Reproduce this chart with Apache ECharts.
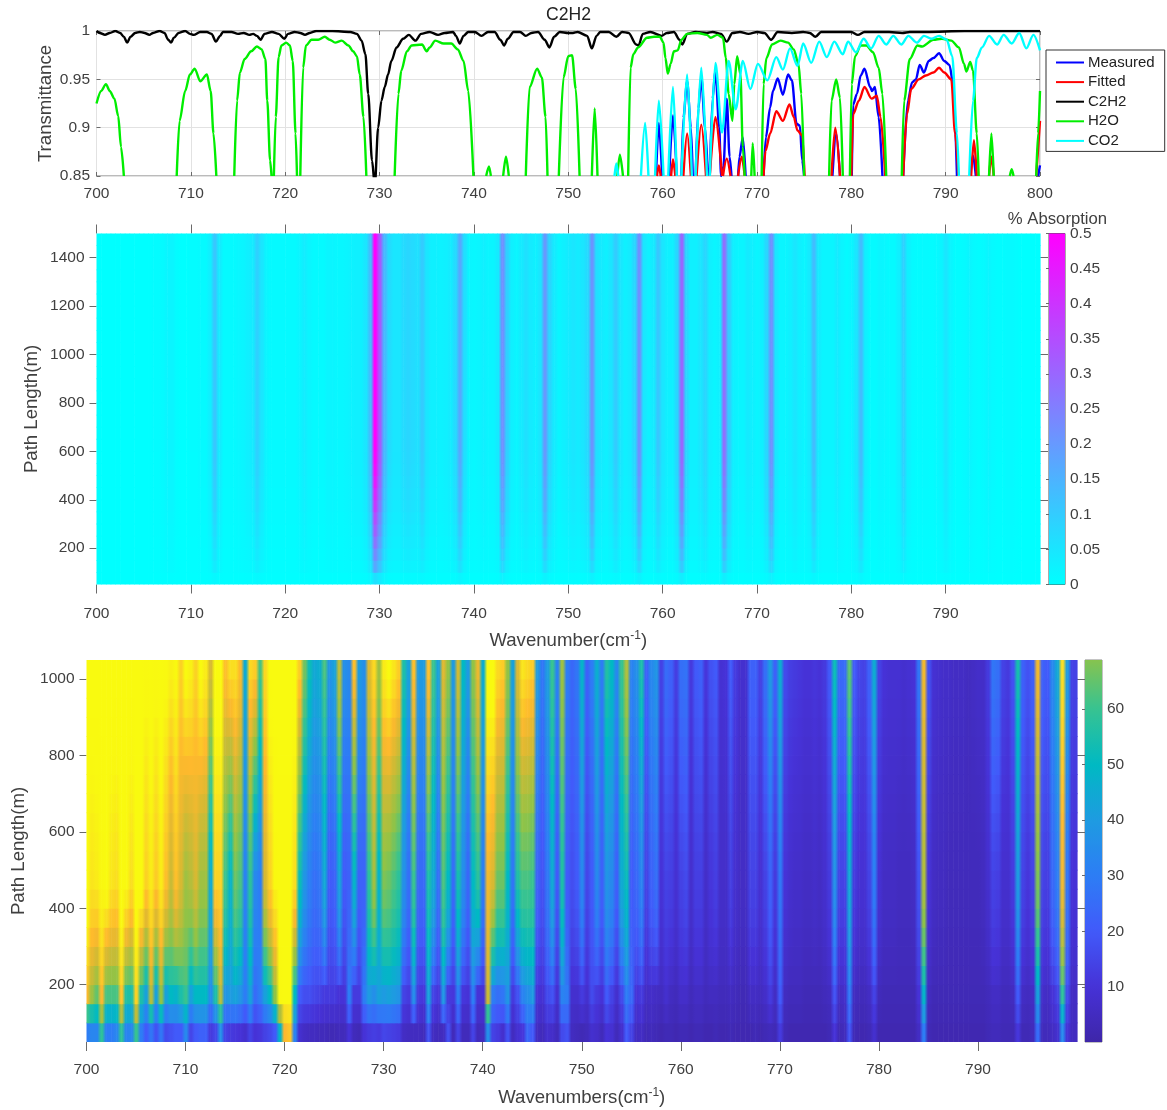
<!DOCTYPE html>
<html>
<head>
<meta charset="utf-8">
<title>C2H2</title>
<style>html,body{margin:0;padding:0;background:#fff}#chart{width:1167px;height:1110px}</style>
<script src="https://cdn.jsdelivr.net/npm/echarts@6/dist/echarts.min.js"></script>
</head>
<body>
<div id="chart"></div>
<script>
const measured = [[759.3,.85],[759.6,.905],[759.95,.85],null,[760.7,.85],[761.1,.913],[761.5,.85],null,[762,.85],[762.2,.91],[762.6,.948],[763,.9],[763.2,.85],null,[763.5,.85],[763.8,.92],[764.1,.953],[764.5,.9],[764.8,.85],null,[765,.85],[765.3,.93],[765.6,.96],[766,.9],[766.2,.85],[766.45,.86],[766.8,.93],[767.1,.87],[767.3,.85],null,[768,.85],[768.15,.87],[768.5,.89],[768.8,.85],null,[770.7,.85],[770.95,.89],[771.4,.921],[771.7,.938],[772.2,.951],[772.75,.934],[773.3,.955],[773.7,.949],[774.2,.904],[774.55,.902],[774.8,.866],[775,.85],null,[778,.85],[778.4,.894],[778.8,.85],null,[780.05,.85],[780.2,.924],[780.6,.935],[781,.954],[781.4,.961],[782,.942],[782.2,.938],[782.5,.942],[782.9,.911],[783.3,.85],null,[785.5,.85],[786,.928],[786.45,.947],[786.85,.95],[787.25,.965],[787.7,.957],[788.2,.969],[788.7,.972],[789.3,.977],[789.85,.969],[790.4,.965],[790.8,.945],[791.2,.85],null,[792.6,.85],[792.9,.871],[793.2,.85],null,[799.8,.85],[800,.861]];
const fitted = [[759.4,.85],[759.6,.861],[759.8,.85],null,[760.9,.85],[761.1,.867],[761.35,.85],null,[762.2,.85],[762.6,.894],[763,.85],null,[763.6,.85],[764.1,.903],[764.6,.85],null,[765,.85],[765.6,.911],[766.3,.85],null,[766.4,.85],[766.8,.868],[767.2,.85],null,[768,.85],[768.4,.87],[768.7,.85],null,[770.7,.85],[770.9,.876],[771.4,.894],[772.05,.917],[772.75,.907],[773.45,.924],[773.9,.911],[774.3,.897],[774.8,.892],[775.05,.85],null,[777.9,.85],[778.3,.9],[778.8,.85],null,[780,.85],[780.2,.914],[780.8,.928],[781.4,.942],[782.15,.93],[782.7,.933],[783.1,.911],[783.6,.85],null,[785.5,.85],[785.9,.914],[786.35,.94],[787.15,.95],[787.9,.954],[788.7,.957],[789.3,.962],[789.85,.957],[790.6,.95],[791,.894],[791.35,.85],null,[792.7,.85],[793,.887],[793.3,.85],null,[794.6,.85],[794.85,.87],[795.1,.85],null,[799.6,.85],[800,.907]];
const c2h2 = [[700,1],[700.35,.998],[700.9,.996],[701.4,.998],[702,1],[702.5,.998],[702.9,.994],[703.25,.988],[703.6,.994],[704.1,.998],[704.6,.999],[705.1,.998],[705.6,.996],[706,.998],[706.7,1],[707.2,.998],[707.6,.991],[707.9,.988],[708.2,.993],[708.7,.998],[709.4,1],[709.9,.997],[710.3,.996],[711,.999],[711.7,.999],[712.2,.997],[712.65,.989],[713.1,.995],[713.4,.999],[714.3,.999],[715,.997],[715.6,.998],[716.2,.996],[716.6,.997],[717,.995],[717.4,.991],[717.8,.997],[718.6,.999],[719.3,.997],[719.9,.992],[720.3,.997],[721,.999],[721.6,.998],[722.1,.996],[722.6,.998],[723.3,1],[725,1],[726.9,.999],[727.6,.997],[728.1,.99],[728.5,.976],[728.8,.935],[729.2,.866],[729.5,.84],[729.85,.9],[730.2,.928],[730.55,.942],[730.9,.955],[731.25,.969],[731.8,.983],[732.5,.992],[733.1,.996],[733.8,.99],[734.4,.997],[735.3,.999],[736.2,.996],[736.9,.998],[737.8,.999],[738.1,.995],[738.5,.987],[738.9,.995],[739.4,.999],[740.1,.999],[740.8,.995],[741.5,.999],[742.2,.999],[742.8,.991],[743.2,.985],[743.6,.992],[744.2,.999],[744.9,.999],[745.5,.995],[746.1,.998],[746.8,.999],[747.5,.991],[748,.983],[748.5,.994],[749.1,.999],[750,.998],[750.5,.998],[751,.999],[752,.995],[752.5,.982],[753,.995],[753.4,.999],[754.3,.999],[755.1,.994],[755.7,.999],[756.4,.998],[757.2,.986],[757.45,.985],[757.9,.997],[758.7,.999],[759.9,.995],[760.45,.998],[761.2,.999],[761.8,.991],[762.1,.986],[762.6,.997],[763.5,.999],[764.7,.998],[765.3,.999],[766.2,.997],[766.8,.989],[767.4,.998],[768.2,.999],[769.1,.997],[770.05,.999],[770.8,.998],[771.5,.991],[772.2,.999],[773.7,.998],[774.9,.999],[775.6,.998],[776.2,.994],[776.8,.999],[778.7,.999],[780,.999],[780.7,.996],[781.4,.999],[784,.999],[785.4,.998],[786.2,.999],[787.9,.999],[792,1],[800,1]];
const h2o = [[700,.925],[700.5,.938],[701,.945],[701.4,.938],[701.9,.93],[702.3,.912],[702.6,.88],[702.9,.85],null,[708.5,.85],[708.8,.907],[709.4,.938],[709.9,.955],[710.4,.961],[711,.948],[711.7,.955],[712.1,.938],[712.4,.894],[712.7,.85],null,[714.6,.85],[714.9,.928],[715.2,.957],[715.7,.971],[716.4,.979],[717,.984],[717.5,.981],[717.9,.971],[718.1,.928],[718.4,.866],[718.55,.85],null,[718.8,.85],[719,.911],[719.3,.973],[719.6,.985],[720.1,.988],[720.5,.985],[720.8,.969],[721.1,.894],[721.25,.85],null,[721.6,.85],[721.9,.962],[722.2,.985],[722.8,.991],[723.5,.991],[724.2,.994],[724.7,.991],[725.3,.988],[726,.99],[726.7,.985],[727.2,.979],[727.6,.974],[727.9,.955],[728.3,.911],[728.6,.85],null,[731.6,.85],[732,.935],[732.3,.959],[732.9,.979],[733.4,.985],[734.5,.986],[735,.979],[735.3,.983],[735.9,.99],[736.8,.987],[737.6,.987],[738.3,.981],[738.9,.969],[739.4,.938],[739.95,.85],null,[741.3,.85],[741.6,.86],[741.8,.85],null,[743.1,.85],[743.4,.87],[743.7,.85],null,[745.5,.85],[745.9,.942],[746.7,.961],[747.2,.952],[747.6,.911],[747.8,.85],null,[749,.85],[749.5,.952],[750,.974],[750.4,.975],[750.8,.94],[751.2,.85],null,[752.5,.85],[752.8,.92],[753.1,.85],null,[755.2,.85],[755.47,.872],[755.8,.85],null,[756.35,.85],[756.6,.962],[756.9,.976],[757.4,.983],[758.35,.993],[759.1,.994],[759.7,.994],[760.1,.988],[760.3,.972],[760.55,.956],[760.85,.966],[761.2,.979],[761.6,.98],[762,.991],[762.6,.997],[763.7,.998],[764.7,.996],[765.1,.993],[765.8,.996],[766.4,.993],[766.7,.972],[767,.935],[767.4,.907],[767.6,.945],[767.9,.974],[768.25,.955],[768.5,.88],[768.7,.85],null,[769.4,.85],[769.55,.884],[769.75,.85],null,[770.5,.85],[770.7,.945],[771,.972],[771.6,.986],[772.5,.99],[773.3,.988],[773.9,.981],[774.4,.966],[774.7,.935],[775,.85],null,[777.65,.85],[777.9,.928],[778.4,.95],[778.8,.931],[779.1,.85],null,[779.85,.85],[780.05,.945],[780.4,.974],[781,.985],[781.6,.985],[782.3,.978],[782.9,.962],[783.3,.935],[783.7,.85],null,[785.35,.85],[785.6,.928],[786.2,.971],[787,.985],[787.5,.984],[788.7,.991],[789.6,.992],[790.6,.99],[791.4,.983],[791.95,.966],[792.2,.958],[792.6,.968],[792.9,.959],[793.3,.894],[793.5,.85],null,[794.6,.85],[794.85,.894],[795.1,.85],null,[796.8,.85],[797,.857],[797.2,.85],null,[799.6,.85],[799.8,.894],[800,.938]];
const co2 = [[754.9,.85],[755.1,.863],[755.3,.85],null,[757.7,.85],[758.15,.905],[758.5,.85],null,[759.2,.85],[759.6,.928],[760.1,.85],null,[760.6,.85],[761.1,.942],[761.5,.85],null,[762,.85],[762.6,.955],[763.1,.85],null,[763.5,.85],[764.1,.962],[764.7,.85],null,[765,.85],[765.6,.967],[766.3,.895],[767,.969],[767.75,.919],[768.5,.969],[769.3,.94],[770.1,.966],[771.1,.949],[772.05,.973],[772.75,.96],[773.5,.982],[774.3,.964],[774.9,.987],[775.75,.967],[776.6,.989],[777.4,.973],[778.2,.989],[779.1,.976],[779.65,.989],[780.5,.978],[781.3,.992],[782.1,.982],[782.9,.995],[783.7,.986],[784.45,.995],[785.3,.986],[786.05,.995],[786.95,.988],[787.7,.995],[788.5,.992],[789.3,.995],[790.1,.991],[790.7,.974],[791.2,.894],[791.4,.85],null,[792.5,.85],[792.9,.928],[793.3,.972],[793.85,.983],[794.6,.995],[795.45,.986],[796.15,.996],[797,.987],[797.8,.998],[798.55,.982],[799.3,.996],[800,.98]];

// Middle panel: absorption per wavenumber column (700 to 799.5 in 0.5 steps) on the long-path rows.
const midColumns = [
0,0,0,0,0,0,0,0,0,0,0,0,.005,.005,.01,.02,.02,.005,0,0,
.005,.005,.01,.01,.03,.11,.04,.01,.01,.01,.015,.02,.03,.04,.09,.05,.02,.01,.01,.01,
.01,.01,.01,.02,.035,.02,.01,.01,.01,.02,.02,.015,.015,.02,.025,.03,.03,.05,.13,.5,
.32,.14,.07,.05,.05,.07,.08,.07,.06,.1,.05,.03,.03,.025,.03,.04,.07,.17,.06,.02,
.015,.02,.03,.02,.02,.04,.22,.09,.03,.02,.04,.06,.04,.03,.05,.2,.08,.04,.02,.03,
.04,.05,.04,.05,.07,.21,.06,.04,.03,.05,.1,.05,.03,.04,.08,.22,.05,.03,.04,.11,
.05,.03,.03,.08,.3,.08,.03,.03,.05,.08,.03,.02,.03,.28,.1,.03,.02,.02,.04,.03,
.02,.03,.08,.22,.05,.02,.02,.03,.05,.03,.02,.04,.13,.04,.02,.02,.02,.04,.02,.01,
.02,.05,.13,.03,.01,.01,.02,.015,.01,.01,.03,.09,.03,.01,.005,.01,.01,.005,.01,.02,
.05,.02,.005,.005,.01,.02,.01,.005,.01,.02,.01,.005,.005,.01,.01,.005,0,0,0,0];
const midRowLengths = [50,100,150,200,250,300,350,400,450,500,550,600,650,700,750,800,850,900,950,1000,1050,1100,1150,1200,1250,1300,1350,1400,1450];
const midRowFactors = [.12,.35,.46,.55,.63,.7,.78,.85,.9,.95,.98,1,1,1,1,1,1,1,1,1,1,1,1,1,1,1,1,1,1];

// Bottom panel: absorption per wavenumber column on four path lengths.
const bottomAt50 = [
30,33,33,58,30,30,33,58,32,33,60,30,20,28,18,28,16,18,20,20,
34,15,20,22,22,12,15,36,14,12,11,10,8,14,10,11,14,16,20,48,
86,88,32,8,6,5,5,4,4,3,3,4,4,10,4,3,10,12,13,12,
15,14,13,12,6,5,5,5,4,18,5,4,5,17,4,14,4,4,14,4,
5,36,14,12,8,18,5,9,11,24,20,5,4,8,7,4,16,18,5,4,
3,4,8,7,4,10,9,4,8,20,14,5,6,3,4,3,2,3,3,2,
3,3,2,3,3,2,2,3,2,2,3,2,2,2,2,3,2,3,4,3,
12,3,2,2,2,2,2,2,2,2,3,10,3,4,18,3,2,2,3,8,
2,2,2,2,2,2,2,2,6,30,3,2,2,2,2,2,2,2,2,2,
2,2,3,4,4,3,3,3,11,3,3,4,25,4,4,6,8,34,10,5];
const bottomAt150 = [
85,72,65,85,62,62,62,88,56,55,90,55,42,75,42,70,42,50,48,55,
60,42,50,50,50,35,55,75,38,40,42,38,30,42,25,30,42,50,70,96,
97,97,50,20,17,17,15,14,12,12,12,10,10,30,12,12,30,40,36,42,
40,42,40,38,14,12,35,12,11,42,14,11,38,12,11,30,11,10,30,10,
10,78,30,26,28,38,12,18,32,36,40,10,9,16,18,9,32,30,8,8,
12,8,16,12,10,20,14,8,16,30,24,10,12,6,7,6,5,8,5,4,
7,7,4,6,6,4,5,5,4,4,5,4,3,3,6,6,5,7,12,6,
20,5,4,4,4,3,3,3,3,4,5,18,6,7,28,5,4,4,6,14,
4,3,3,3,3,3,3,3,10,48,5,3,3,3,3,3,3,3,3,3,
3,3,4,6,6,4,4,5,20,6,5,6,42,7,6,10,14,58,16,6];
const bottomAt450 = [
98,93,94,96,98,93,92,98,97,92,98,99,90,94,89,94,87,78,87,80,
72,75,80,72,72,45,90,90,60,48,66,62,32,58,34,30,80,90,96,97,
97,97,92,52,38,30,26,28,44,20,22,42,20,22,48,22,22,58,72,48,
68,66,62,58,36,26,60,24,24,55,44,26,62,50,25,54,35,24,50,58,
30,84,80,66,66,50,28,56,62,62,60,22,18,28,44,20,55,20,17,20,
33,15,20,34,22,38,34,22,45,52,20,24,32,14,22,26,10,14,13,9,
14,16,8,13,13,7,11,13,7,7,13,8,6,6,14,14,9,14,22,12,
28,10,8,7,7,6,6,7,6,8,12,36,14,14,44,12,9,9,14,30,
9,6,6,6,5,5,5,6,18,74,10,6,5,5,4,4,4,4,4,4,
4,5,8,14,13,8,8,12,40,14,11,14,68,14,13,24,30,84,28,10];
const bottomAt1000 = [
99,99,99,99,99,99,99,99,99,99,99,99,97,98,97,98,97,95,96,90,
97,95,90,97,94,80,98,98,87,92,92,86,45,91,89,62,91,98,99,99,
99,99,98,89,66,52,44,46,62,38,42,76,36,34,87,40,36,81,91,72,
94,97,93,89,55,42,87,40,40,87,60,42,81,70,40,79,50,40,70,83,
46,98,99,91,89,70,42,81,93,91,89,40,28,40,60,32,72,30,24,28,
48,22,30,46,30,56,50,34,60,74,32,36,55,22,34,38,14,25,22,13,
26,27,12,20,22,11,18,20,9,10,20,12,8,8,22,22,14,26,40,22,
46,16,13,12,11,10,10,11,10,12,20,52,24,25,64,20,15,14,22,45,
14,10,9,9,9,8,9,10,28,84,18,9,8,7,7,6,6,6,5,6,
7,7,12,28,26,14,12,18,54,22,18,22,84,22,20,34,44,92,40,14];
const bottomRowLengths = [50,100,150,200,250,300,350,400,450,500,550,600,650,700,750,800,850,900,950,1000];
// Position of each row between the read rows: 0 = 50 m, 1 = 150 m, 2 = 450 m, 3 = 1000 m
const bottomRowMix = [0,.55,1,1.28,1.5,1.68,1.83,1.93,2,2.08,2.16,2.25,2.35,2.45,2.55,2.65,2.75,2.85,2.93,3];
const bottomReadRows = [bottomAt50, bottomAt150, bottomAt450, bottomAt1000];

const xTicks = [700,710,720,730,740,750,760,770,780,790];
const midYTicks = [200,400,600,800,1000,1200,1400];
const bottomYTicks = [200,400,600,800,1000];
const midBarTicks = [0,.05,.1,.15,.2,.25,.3,.35,.4,.45,.5];
const bottomBarTicks = [10,20,30,40,50,60];
const parulaStops = [[0,[62,38,168]],[.1,[70,50,215]],[.2,[65,90,250]],[.3,[45,125,245]],[.4,[30,155,225]],[.5,[0,185,195]],[.6,[55,195,145]],[.7,[145,195,70]],[.8,[215,185,50]],[.86,[254,185,45]],[.92,[250,222,32]],[.96,[249,248,16]],[1,[249,251,14]]];

const STEP = .5;
const FONT = 'Liberation Sans';
const TEXT = '#404040', TICK = '#6a6a6a';

function coolColor(v){
  const t = Math.max(0, Math.min(1, v / .5));
  return 'rgb(' + Math.round(255 * t) + ',' + Math.round(255 * (1 - t)) + ',255)';
}
function parulaColor(v){
  const t = Math.max(0, Math.min(1, v / 100));
  for (let i = 1; i < parulaStops.length; i++) {
    if (t <= parulaStops[i][0]) {
      const a = parulaStops[i - 1], b = parulaStops[i], f = (t - a[0]) / (b[0] - a[0]);
      return 'rgb(' + a[1].map((c, k) => Math.round(c + (b[1][k] - c) * f)).join(',') + ')';
    }
  }
  return 'rgb(249,251,14)';
}
const wavenumberAt = i => 700 + i * STEP;

const midCells = [];
midRowLengths.forEach((len, r) => midColumns.forEach((v, i) => {
  const next = i + 1 < midColumns.length ? midColumns[i + 1] : v;
  midCells.push([wavenumberAt(i), len, v * midRowFactors[r], next * midRowFactors[r]]);
}));
function bottomAt(i, mix){
  const k = Math.min(Math.floor(mix), bottomReadRows.length - 2), f = mix - k;
  return bottomReadRows[k][i] + (bottomReadRows[k + 1][i] - bottomReadRows[k][i]) * f;
}
const bottomCells = [];
bottomRowLengths.forEach((len, r) => bottomAt50.forEach((_, i) => {
  const n = Math.min(i + 1, bottomAt50.length - 1);
  bottomCells.push([wavenumberAt(i), len, bottomAt(i, bottomRowMix[r]), bottomAt(n, bottomRowMix[r])]);
}));

function cellRenderer(colorFn){
  return function(params, api){
    const x = api.value(0), y = api.value(1);
    const p0 = api.coord([x, y + 50]);
    const p1 = api.coord([x + STEP, y]);
    const a = colorFn(api.value(2)), b = colorFn(api.value(3));
    return {
      type: 'rect',
      shape: { x: p0[0], y: p0[1] - .4, width: p1[0] - p0[0] + .6, height: p1[1] - p0[1] + .8 },
      style: { fill: { type: 'linear', x: 0, y: 0, x2: 1, y2: 0, colorStops: [
        { offset: 0, color: a }, { offset: .2, color: a }, { offset: .8, color: b }, { offset: 1, color: b }] } }
    };
  };
}
function barRenderer(colorFn, lo, hi, n){
  return function(params, api){
    const top = api.coord([0, hi]), bottom = api.coord([1, lo]);
    const stops = [];
    for (let i = 0; i <= n; i++) stops.push({ offset: i / n, color: colorFn(hi - (hi - lo) * i / n) });
    return { type: 'rect', shape: { x: top[0], y: top[1], width: bottom[0] - top[0], height: bottom[1] - top[1] },
      style: { fill: { type: 'linear', x: 0, y: 0, x2: 0, y2: 1, colorStops: stops } } };
  };
}
const nameStyle = { color: TEXT, fontFamily: FONT, fontSize: 18.6 };
const labelStyle = { color: TEXT, fontFamily: FONT, fontSize: 15.5 };
const richName = { a: { color: TEXT, fontFamily: FONT, fontSize: 18.6 }, s: { color: TEXT, fontFamily: FONT, fontSize: 12, padding: [0, 0, 10, 0] } };
const noAxisLine = { show: false };
function tickAxis(base, len, inside, ticks, labels, margin){
  return Object.assign({ type: 'value', splitLine: { show: false }, axisLine: noAxisLine, nameMoveOverlap: false,
    axisTick: Object.assign({ show: true, length: len, inside: inside, lineStyle: { color: TICK, width: 1 } }, ticks ? { customValues: ticks } : {}),
    axisLabel: Object.assign({ show: !!labels, margin: margin, formatter: v => String(+(+v).toFixed(2)) }, labelStyle, labels && labels !== true ? { customValues: labels } : {}) }, base);
}
const gridLine = { show: true, lineStyle: { color: '#e2e2e2', width: 1 } };
const lineSeries = (name, data, color) => ({
  name, type: 'line', xAxisIndex: 0, yAxisIndex: 0, showSymbol: false, symbol: 'none', smooth: .3, smoothMonotone: 'x',
  connectNulls: false, clip: true, lineStyle: { color, width: 2.4 }, itemStyle: { color },
  data: data.map(p => p === null ? ['-', '-'] : p)
});

const option = {
  animation: false,
  backgroundColor: '#fff',
  textStyle: { fontFamily: FONT },
  title: [
    { text: 'C2H2', left: 568.5, top: 6, textAlign: 'center', padding: 0, textStyle: { color: '#222', fontFamily: FONT, fontSize: 17.6, fontWeight: 'normal' } },
    { text: '% Absorption', left: 1057.5, top: 211, textAlign: 'center', padding: 0, textStyle: { color: TEXT, fontFamily: FONT, fontSize: 16.7, fontWeight: 'normal' } }
  ],
  legend: {
    left: 1046, top: 50, orient: 'vertical', padding: [4, 10, 2, 10], itemGap: 2.6, itemWidth: 28, itemHeight: 2, icon: 'rect',
    borderColor: '#333', borderWidth: 1, backgroundColor: '#fff',
    textStyle: { color: '#222', fontFamily: FONT, fontSize: 15, padding: [0, 0, 0, -1], lineHeight: 17 },
    data: ['Measured', 'Fitted', 'C2H2', 'H2O', 'CO2']
  },
  grid: [
    { left: 96.5, top: 31, width: 943.5, height: 145, show: true, borderColor: '#777', borderWidth: 1, backgroundColor: 'transparent' },
    { left: 96.5, top: 233.5, width: 943.5, height: 351 },
    { left: 1049, top: 233.5, width: 16, height: 351, show: true, borderColor: '#555', borderWidth: 1 },
    { left: 86.5, top: 660, width: 990.5, height: 382 },
    { left: 1085, top: 660, width: 17, height: 382, show: true, borderColor: '#888', borderWidth: 1 }
  ],
  xAxis: [
    tickAxis({ gridIndex: 0, min: 700, max: 800, interval: 10, position: 'bottom', splitLine: gridLine }, 4, true, null, true, 10),
    tickAxis({ gridIndex: 0, min: 700, max: 800, interval: 10, position: 'top' }, 4, true, null, null),
    tickAxis({ gridIndex: 1, min: 700, max: 800, position: 'bottom', name: '{a|Wavenumber(cm}{s|-1}{a|)}', nameLocation: 'middle', nameGap: 45, nameTextStyle: { rich: richName } }, 9, false, xTicks, xTicks, 21),
    tickAxis({ gridIndex: 1, min: 700, max: 800, position: 'top' }, 9, false, xTicks, null),
    { type: 'value', gridIndex: 2, min: 0, max: 1, show: false },
    tickAxis({ gridIndex: 3, min: 700, max: 800, position: 'bottom', name: '{a|Wavenumbers(cm}{s|-1}{a|)}', nameLocation: 'middle', nameGap: 45, nameTextStyle: { rich: richName } }, 9, false, xTicks, xTicks, 20),
    { type: 'value', gridIndex: 4, min: 0, max: 1, show: false }
  ],
  yAxis: [
    tickAxis({ gridIndex: 0, min: .85, max: 1, interval: .05, position: 'left', splitLine: gridLine, name: 'Transmittance', nameLocation: 'middle', nameGap: 41, nameTextStyle: nameStyle }, 4, true, null, true, 6.5),
    tickAxis({ gridIndex: 0, min: .85, max: 1, interval: .05, position: 'right' }, 4, true, null, null),
    tickAxis({ gridIndex: 1, min: 50, max: 1500, position: 'left', name: 'Path Length(m)', nameLocation: 'middle', nameGap: 55, nameTextStyle: nameStyle }, 7, false, midYTicks, midYTicks, 12),
    tickAxis({ gridIndex: 1, min: 50, max: 1500, position: 'right' }, 8, false, midYTicks, null),
    tickAxis({ gridIndex: 2, min: 0, max: .5, position: 'right' }, 3, true, midBarTicks, midBarTicks, 5),
    tickAxis({ gridIndex: 3, min: 50, max: 1050, position: 'left', name: 'Path Length(m)', nameLocation: 'middle', nameGap: 58, nameTextStyle: nameStyle }, 7, false, bottomYTicks, bottomYTicks, 12),
    tickAxis({ gridIndex: 3, min: 50, max: 1050, position: 'right' }, 8, false, bottomYTicks, null),
    tickAxis({ gridIndex: 4, min: .1, max: 68.8, position: 'right' }, 3, true, bottomBarTicks, bottomBarTicks, 5)
  ],
  series: [
    lineSeries('Measured', measured, '#0000ff'),
    lineSeries('Fitted', fitted, '#ff0000'),
    lineSeries('C2H2', c2h2, '#000000'),
    lineSeries('H2O', h2o, '#00ee00'),
    lineSeries('CO2', co2, '#00ffff'),
    { type: 'custom', name: 'Absorption', xAxisIndex: 2, yAxisIndex: 2, data: midCells, progressive: 0, silent: true, clip: true, encode: { x: 0, y: 1 }, renderItem: cellRenderer(coolColor) },
    { type: 'custom', name: 'AbsorptionBar', xAxisIndex: 4, yAxisIndex: 4, data: [[0, 0]], silent: true, encode: { x: 0, y: 1 }, renderItem: barRenderer(coolColor, 0, .5, 2) },
    { type: 'custom', name: 'Water', xAxisIndex: 5, yAxisIndex: 5, data: bottomCells, progressive: 0, silent: true, clip: true, encode: { x: 0, y: 1 }, renderItem: cellRenderer(parulaColor) },
    { type: 'custom', name: 'WaterBar', xAxisIndex: 6, yAxisIndex: 7, data: [[0, 0]], silent: true, encode: { x: 0, y: 1 }, renderItem: barRenderer(parulaColor, .1, 68.8, 40) }
  ]
};
echarts.init(document.getElementById('chart'), null, { renderer: 'canvas' }).setOption(option);
</script>
</body>
</html>
